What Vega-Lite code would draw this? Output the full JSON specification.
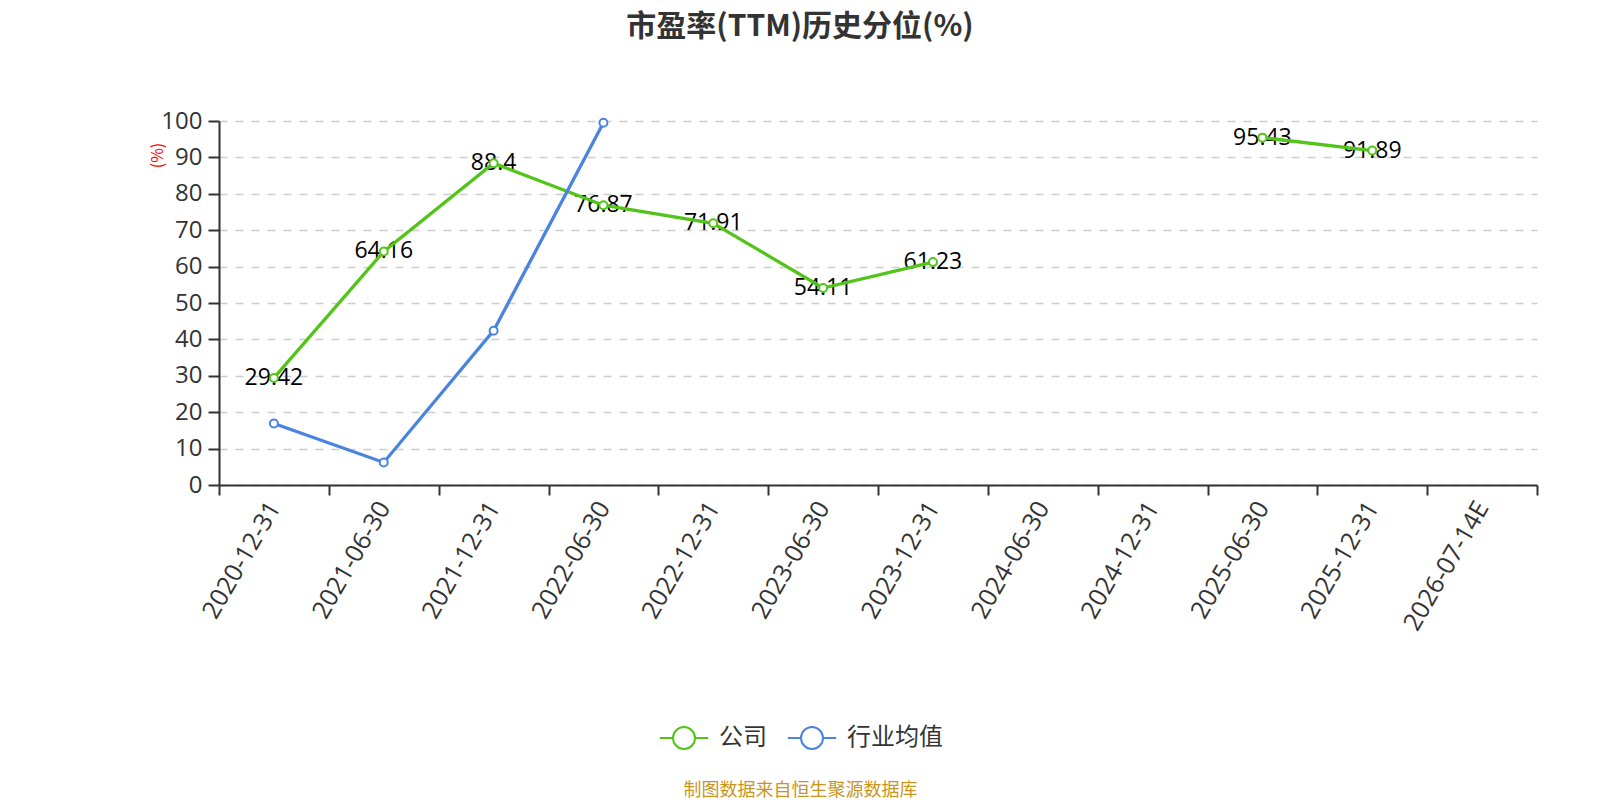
{
  "$schema": "https://vega.github.io/schema/vega-lite/v6.json",
  "description": "市盈率(TTM)历史分位",
  "width": 1318,
  "height": 364,
  "autosize": {"type": "none"},
  "padding": {"left": 219, "top": 121, "right": 63, "bottom": 315},
  "background": "white",
  "title": {
    "text": "市盈率(TTM)历史分位(%)",
    "anchor": "middle",
    "dx": -78,
    "offset": 67,
    "fontSize": 30,
    "fontWeight": "bold",
    "color": "#333333",
    "font": "Noto Sans CJK SC"
  },
  "config": {
    "font": "Noto Sans CJK SC",
    "view": {"stroke": null}
  },
  "data": {
    "values": [
      {"date": "2020-12-31", "series": "公司", "value": 29.42},
      {"date": "2021-06-30", "series": "公司", "value": 64.16},
      {"date": "2021-12-31", "series": "公司", "value": 88.4},
      {"date": "2022-06-30", "series": "公司", "value": 76.87},
      {"date": "2022-12-31", "series": "公司", "value": 71.91},
      {"date": "2023-06-30", "series": "公司", "value": 54.11},
      {"date": "2023-12-31", "series": "公司", "value": 61.23},
      {"date": "2024-06-30", "series": "公司", "value": null},
      {"date": "2024-12-31", "series": "公司", "value": null},
      {"date": "2025-06-30", "series": "公司", "value": 95.43},
      {"date": "2025-12-31", "series": "公司", "value": 91.89},
      {"date": "2026-07-14E", "series": "公司", "value": null},
      {"date": "2020-12-31", "series": "行业均值", "value": 16.9},
      {"date": "2021-06-30", "series": "行业均值", "value": 6.2},
      {"date": "2021-12-31", "series": "行业均值", "value": 42.4},
      {"date": "2022-06-30", "series": "行业均值", "value": 99.5}
    ]
  },
  "encoding": {
    "x": {
      "field": "date",
      "type": "nominal",
      "sort": null,
      "scale": {
        "type": "band",
        "domain": ["2020-12-31", "2021-06-30", "2021-12-31", "2022-06-30", "2022-12-31", "2023-06-30", "2023-12-31", "2024-06-30", "2024-12-31", "2025-06-30", "2025-12-31", "2026-07-14E"],
        "paddingInner": 0,
        "paddingOuter": 0
      },
      "axis": {
        "title": "制图数据来自恒生聚源数据库",
        "titleColor": "#c8961e",
        "titleFont": "Noto Sans CJK SC",
        "titleFontSize": 18,
        "titleFontWeight": "normal",
        "titleX": 581,
        "titleY": 305,
        "titleAlign": "center",
        "titleBaseline": "middle",
        "labelAngle": -60,
        "labelFont": "Open Sans",
        "labelFontSize": 25,
        "labelColor": "#333333",
        "labelPadding": 8,
        "tickBand": "extent",
        "tickSize": 10,
        "tickWidth": 2,
        "tickColor": "#333333",
        "domainColor": "#333333",
        "domainWidth": 2,
        "grid": false
      }
    },
    "y": {
      "field": "value",
      "type": "quantitative",
      "scale": {"domain": [0, 100], "nice": false},
      "axis": {
        "values": [0, 10, 20, 30, 40, 50, 60, 70, 80, 90, 100],
        "title": "(%)",
        "titleColor": "red",
        "titleFontSize": 16,
        "titleFontWeight": "normal",
        "titleX": -62,
        "titleY": 34,
        "titleAngle": 270,
        "titleAlign": "center",
        "titleBaseline": "middle",
        "labelFont": "Open Sans",
        "labelFontSize": 24,
        "labelColor": "#333333",
        "labelPadding": 6,
        "tickSize": 11,
        "tickWidth": 2,
        "tickColor": "#333333",
        "domainColor": "#333333",
        "domainWidth": 2,
        "grid": true,
        "gridDash": [8, 8],
        "gridColor": "#cccccc",
        "gridWidth": 1.5
      }
    }
  },
  "layer": [
    {
      "transform": [{"filter": "datum.series === '公司' && datum.value != null"}],
      "mark": {"type": "text", "font": "Open Sans", "fontSize": 23, "color": "black", "align": "center", "baseline": "middle"},
      "encoding": {
        "text": {"field": "value", "type": "nominal"}
      }
    },
    {
      "mark": {"type": "line", "strokeWidth": 3.3, "invalid": "break-paths-show-domains"},
      "encoding": {
        "color": {
          "field": "series",
          "type": "nominal",
          "scale": {"domain": ["公司", "行业均值"], "range": ["#52c41a", "#4a83e0"]},
          "legend": {
            "orient": "none",
            "legendX": 453,
            "legendY": 605,
            "direction": "horizontal",
            "title": null,
            "symbolType": "M-2.2,0 L-1,0 M1,0 L2.2,0 M-1,0 A1,1 0 1,0 1,0 A1,1 0 1,0 -1,0 Z",
            "symbolSize": 484,
            "symbolStrokeWidth": 2,
            "labelFont": "Noto Sans CJK SC",
            "labelFontSize": 24,
            "labelColor": "#333333",
            "labelOffset": 23,
            "columnPadding": 16,
            "encode": {
              "symbols": {"update": {"fill": {"value": "white"}, "strokeWidth": {"value": 2}, "opacity": {"value": 1}}}
            }
          }
        }
      }
    },
    {
      "mark": {"type": "point", "shape": "circle", "filled": false, "fill": "white", "size": 64, "strokeWidth": 2, "opacity": 1},
      "encoding": {
        "color": {"field": "series", "type": "nominal"}
      }
    }
  ]
}
